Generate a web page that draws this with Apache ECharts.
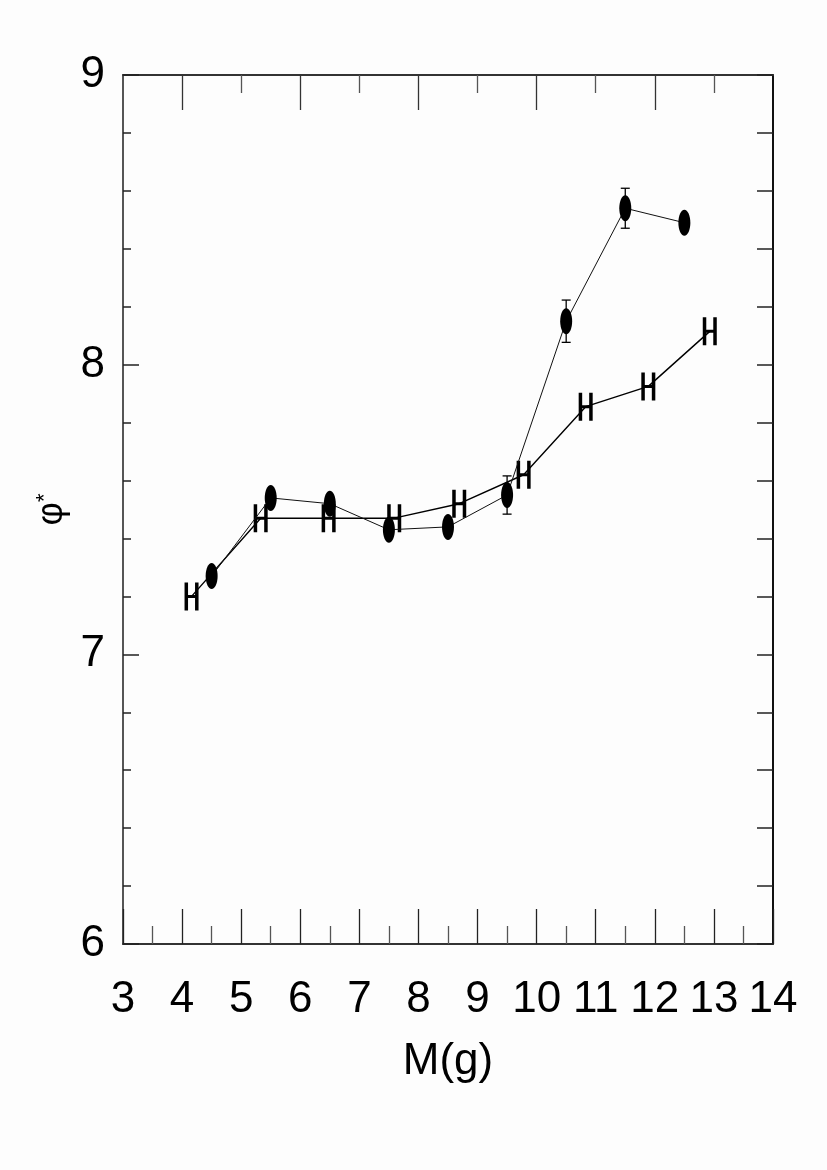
<!DOCTYPE html>
<html><head><meta charset="utf-8">
<script src="https://cdn.jsdelivr.net/npm/echarts@6/dist/echarts.min.js"></script>
<style>html,body{margin:0;padding:0;background:#fdfdfd}#c{width:827px;height:1170px}</style>
</head><body><div id="c"></div>
<script>
// Series with filled (elliptic) markers
const circleX = [4.5, 5.5, 6.5, 7.5, 8.5, 9.5, 10.5, 11.5, 12.5];
const circleY = [7.27, 7.54, 7.52, 7.43, 7.44, 7.55, 8.15, 8.54, 8.49];
const circleErr = [0, 0, 0, 0, 0, 0.066, 0.073, 0.069, 0];
// Series with "H" markers
const hX = [4.16, 5.33, 6.48, 7.59, 8.69, 9.78, 10.83, 11.89, 12.93];
const hY = [7.20, 7.47, 7.47, 7.47, 7.52, 7.62, 7.855, 7.925, 8.115];
// Axis ranges / ticks
const xMin = 3, xMax = 14;
const yMin = 6, yMax = 9;
const topLongTicks = [4, 6, 8, 10, 12];
const topShortTicks = [5, 7, 9, 11, 13];
const xName = 'M(g)';
const yName = ['φ', '*'];

const FONT = "'Liberation Sans Narrow','Liberation Sans',Arial,sans-serif";
const lineC = '#333';
const chart = echarts.init(document.getElementById('c'), null, {renderer: 'canvas'});

const ellipse = 'path://M6,0 C9.31,0 12,5.6 12,12.5 C12,19.4 9.31,25 6,25 C2.69,25 0,19.4 0,12.5 C0,5.6 2.69,0 6,0 Z';
const hSym = 'path://M0,0 L3.5,0 L3.5,12.5 L10.5,12.5 L10.5,0 L14,0 L14,28 L10.5,28 L10.5,15.5 L3.5,15.5 L3.5,28 L0,28 Z';

const circleData = circleX.map((x, i) => [x, circleY[i]]);
const hData = hX.map((x, i) => [x, hY[i]]);
const errData = [];
circleX.forEach((x, i) => { if (circleErr[i] > 0) errData.push([x, circleY[i] - circleErr[i], circleY[i] + circleErr[i]]); });

const option = {
  backgroundColor: '#fdfdfd',
  animation: false,
  grid: {left: 123, right: 54, top: 75, bottom: 226},
  xAxis: [
    {type: 'value', min: xMin, max: xMax, interval: 1, position: 'bottom',
     axisLine: {show: true, onZero: false, lineStyle: {color: lineC, width: 2}},
     axisTick: {show: true, inside: true, length: 35, lineStyle: {color: '#222', width: 1.3}},
     minorTick: {show: true, splitNumber: 2, length: 18, lineStyle: {color: '#555', width: 1.3}},
     splitLine: {show: false}, minorSplitLine: {show: false},
     axisLabel: {fontFamily: FONT, fontSize: 44, color: '#000', margin: 34},
     name: xName, nameLocation: 'middle', nameGap: 96,
     nameTextStyle: {fontFamily: FONT, fontSize: 44, color: '#000'}},
    {type: 'value', min: xMin, max: xMax, position: 'top',
     axisLine: {show: true, onZero: false, lineStyle: {color: lineC, width: 2}},
     axisTick: {show: true, inside: true, length: 35, customValues: topLongTicks, lineStyle: {color: '#333', width: 1.3}},
     axisLabel: {show: false}, splitLine: {show: false}},
    {type: 'value', min: xMin, max: xMax, position: 'top',
     axisLine: {show: false},
     axisTick: {show: true, inside: true, length: 18, customValues: topShortTicks, lineStyle: {color: '#555', width: 1.3}},
     axisLabel: {show: false}, splitLine: {show: false}}
  ],
  yAxis: [
    {type: 'value', min: yMin, max: yMax, interval: 1, position: 'left',
     axisLine: {show: true, onZero: false, lineStyle: {color: '#555', width: 2}},
     axisTick: {show: true, inside: true, length: 16, lineStyle: {color: '#222', width: 1.5}},
     minorTick: {show: true, splitNumber: 5, length: 8, lineStyle: {color: '#222', width: 1.5}},
     splitLine: {show: false}, minorSplitLine: {show: false},
     axisLabel: {fontFamily: FONT, fontSize: 44, color: '#000', margin: 18},
     name: '{a|' + yName[0] + '}{b|' + yName[1] + '}', nameLocation: 'middle', nameRotate: 90, nameGap: 44,
     nameTextStyle: {rich: {
       a: {fontFamily: FONT, fontSize: 36, color: '#000'},
       b: {fontFamily: FONT, fontSize: 22, color: '#000', verticalAlign: 'top', padding: [0, 0, 14, 0]}
     }}},
    {type: 'value', min: yMin, max: yMax, interval: 0.2, position: 'right',
     axisLine: {show: true, onZero: false, lineStyle: {color: '#111', width: 2}},
     axisTick: {show: true, inside: true, length: 16, lineStyle: {color: '#222', width: 1.5}},
     axisLabel: {show: false}, splitLine: {show: false}}
  ],
  series: [
    {type: 'line', name: 'H', data: hData, xAxisIndex: 0, yAxisIndex: 0,
     symbol: hSym, symbolSize: [14, 28], showSymbol: true,
     itemStyle: {color: '#000'}, lineStyle: {color: '#000', width: 1.4}, z: 3},
    {type: 'line', name: 'circle', data: circleData, xAxisIndex: 0, yAxisIndex: 0,
     symbol: ellipse, symbolSize: [12, 26], showSymbol: true,
     itemStyle: {color: '#000'}, lineStyle: {color: '#111', width: 1}, z: 4},
    {type: 'custom', name: 'err', data: errData, xAxisIndex: 0, yAxisIndex: 0, z: 5,
     encode: {x: 0, y: [1, 2]},
     renderItem: function (params, api) {
       const x = api.value(0), lo = api.value(1), hi = api.value(2);
       const p1 = api.coord([x, lo]), p2 = api.coord([x, hi]);
       const w = 4.5, st = {stroke: '#000', lineWidth: 1.3};
       return {type: 'group', children: [
         {type: 'line', shape: {x1: p1[0], y1: p1[1], x2: p2[0], y2: p2[1]}, style: st},
         {type: 'line', shape: {x1: p1[0] - w, y1: p1[1], x2: p1[0] + w, y2: p1[1]}, style: st},
         {type: 'line', shape: {x1: p2[0] - w, y1: p2[1], x2: p2[0] + w, y2: p2[1]}, style: st}
       ]};
     }}
  ]
};
chart.setOption(option);
</script></body></html>
